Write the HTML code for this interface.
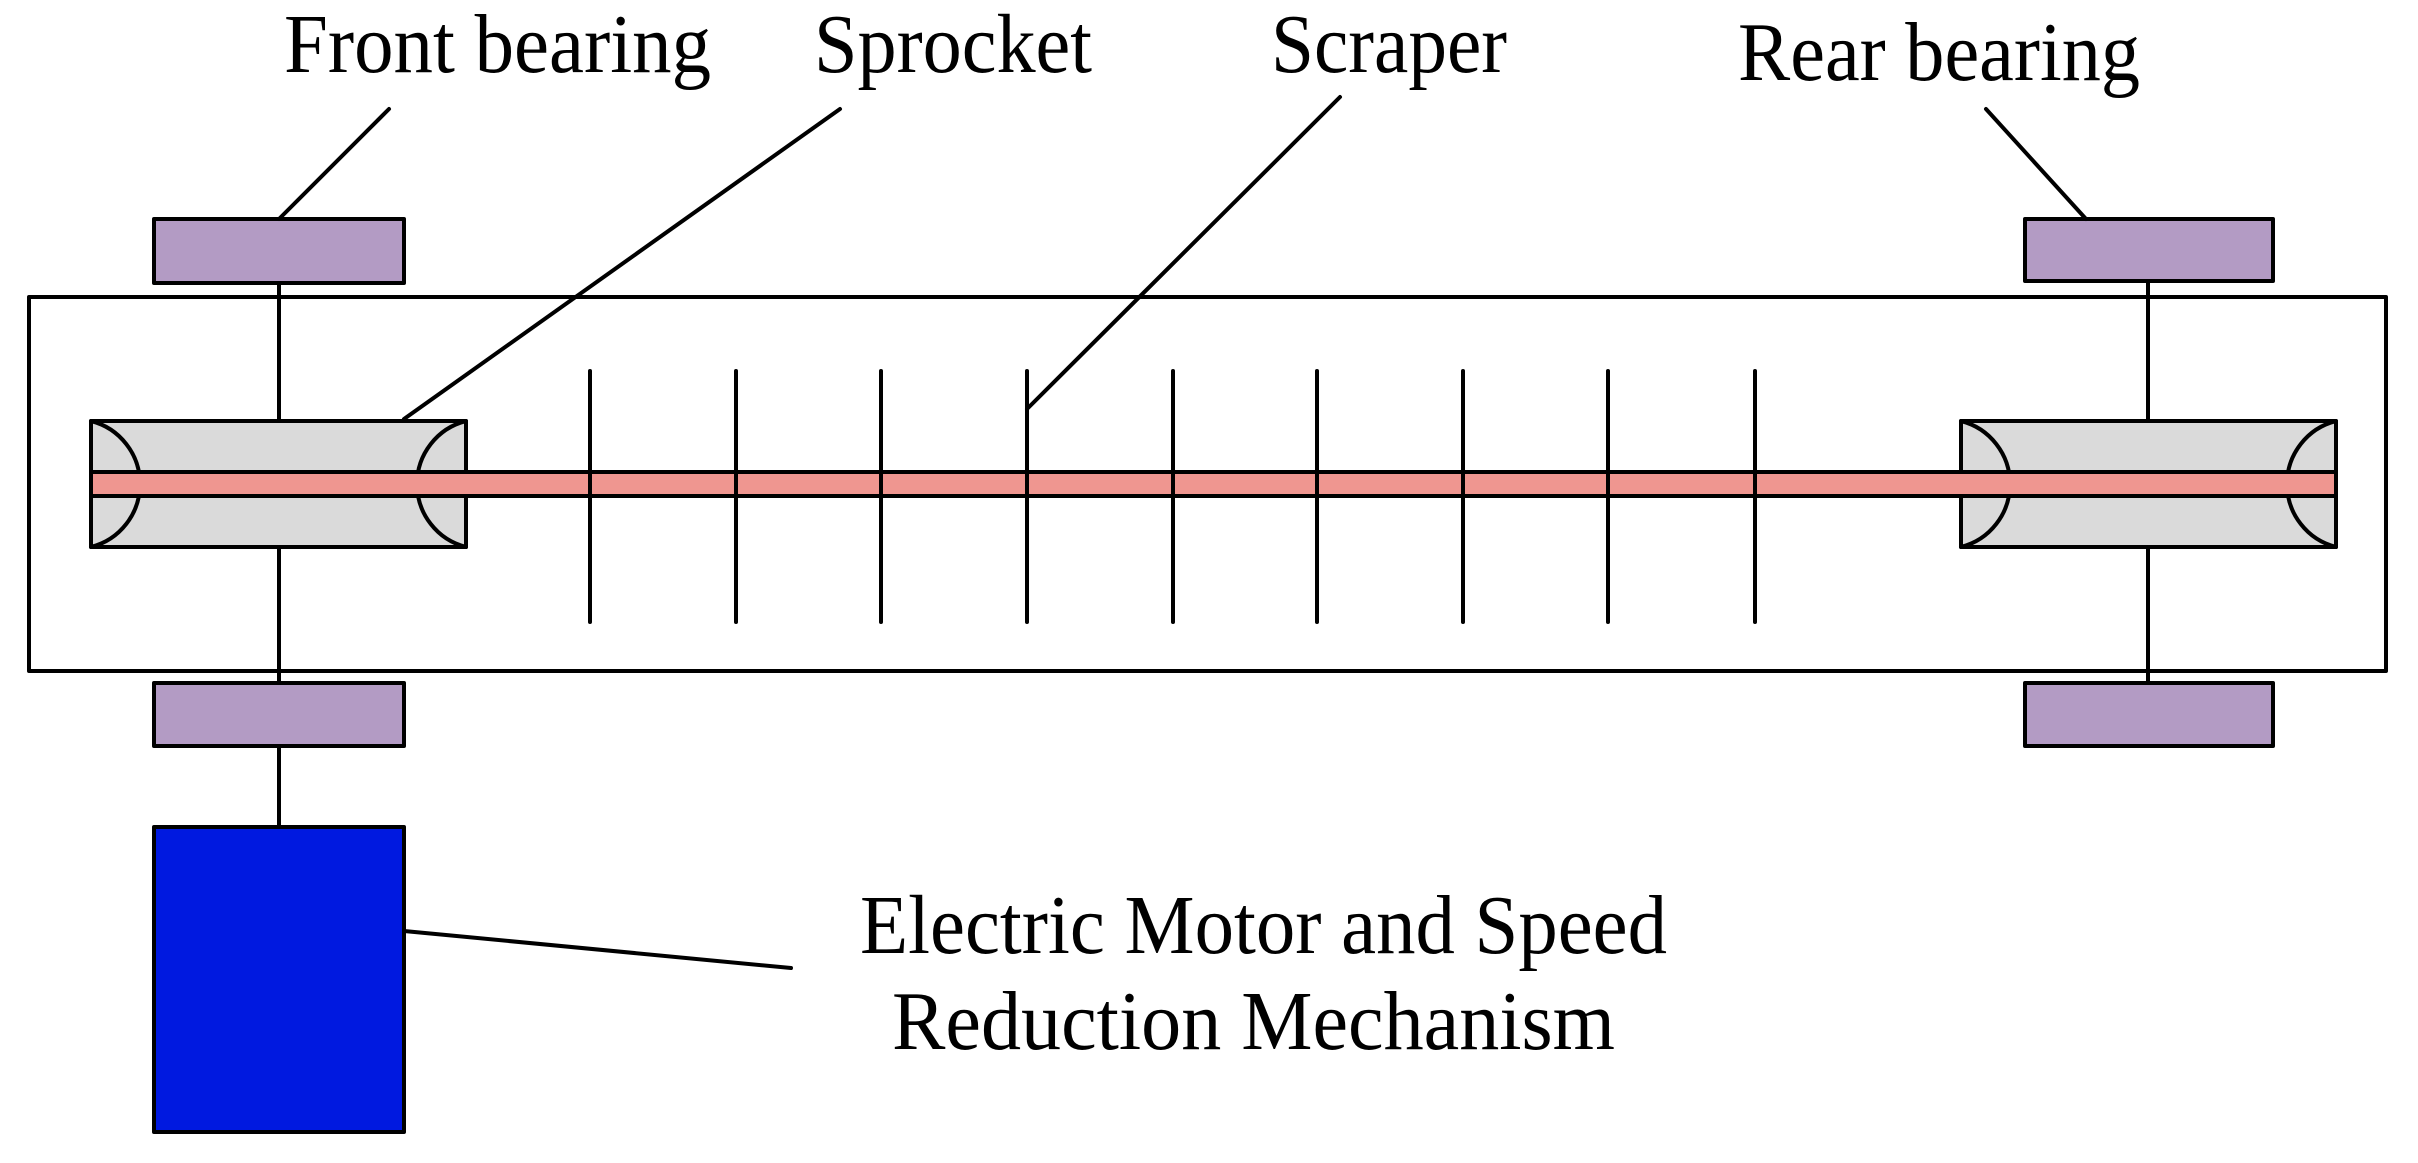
<!DOCTYPE html>
<html><head><meta charset="utf-8"><style>html,body{margin:0;padding:0;background:#fff}svg{display:block}</style></head>
<body>
<svg width="2418" height="1163" viewBox="0 0 2418 1163" xmlns="http://www.w3.org/2000/svg">
<g stroke="#000" stroke-width="4" stroke-linejoin="round" stroke-linecap="round">
<rect x="29" y="297" width="2357" height="374" fill="#fff"/>
<line x1="279" y1="283" x2="279" y2="421"/>
<line x1="279" y1="547" x2="279" y2="683"/>
<line x1="279" y1="746" x2="279" y2="827"/>
<line x1="2148" y1="281" x2="2148" y2="421"/>
<line x1="2148" y1="547" x2="2148" y2="683"/>
<rect x="154" y="219" width="250" height="64" fill="#b39bc4"/>
<rect x="154" y="683" width="250" height="63" fill="#b39bc4"/>
<rect x="2025" y="219" width="248" height="62" fill="#b39bc4"/>
<rect x="2025" y="683" width="248" height="63" fill="#b39bc4"/>
<rect x="91" y="421" width="375" height="126" fill="#dadada"/>
<path d="M91 421 A65 65 0 0 1 91 547" fill="none"/>
<path d="M466 421 A65 65 0 0 0 466 547" fill="none"/>
<rect x="1961" y="421" width="375" height="126" fill="#dadada"/>
<path d="M1961 421 A65 65 0 0 1 1961 547" fill="none"/>
<path d="M2336 421 A65 65 0 0 0 2336 547" fill="none"/>
<rect x="91" y="472" width="2245" height="24" fill="#ef9690"/>
<line x1="590" y1="371" x2="590" y2="622"/>
<line x1="736" y1="371" x2="736" y2="622"/>
<line x1="881" y1="371" x2="881" y2="622"/>
<line x1="1027" y1="371" x2="1027" y2="622"/>
<line x1="1173" y1="371" x2="1173" y2="622"/>
<line x1="1317" y1="371" x2="1317" y2="622"/>
<line x1="1463" y1="371" x2="1463" y2="622"/>
<line x1="1608" y1="371" x2="1608" y2="622"/>
<line x1="1755" y1="371" x2="1755" y2="622"/>
<rect x="154" y="827" width="250" height="305" fill="#0019e0"/>
<line x1="279" y1="219" x2="389" y2="109"/>
<line x1="404" y1="419" x2="840" y2="109"/>
<line x1="1027" y1="409" x2="1340" y2="97"/>
<line x1="2086" y1="219" x2="1986" y2="109"/>
<line x1="404" y1="931" x2="791" y2="968"/>
</g>
<g font-family="'Liberation Serif', serif" font-size="84" fill="#000">
<text x="284" y="72" textLength="427" lengthAdjust="spacingAndGlyphs">Front bearing</text>
<text x="814" y="72" textLength="278" lengthAdjust="spacingAndGlyphs">Sprocket</text>
<text x="1271" y="72" textLength="236" lengthAdjust="spacingAndGlyphs">Scraper</text>
<text x="1738" y="80" textLength="402" lengthAdjust="spacingAndGlyphs">Rear bearing</text>
<text x="860" y="953" textLength="807" lengthAdjust="spacingAndGlyphs">Electric Motor and Speed</text>
<text x="892" y="1049" textLength="723" lengthAdjust="spacingAndGlyphs">Reduction Mechanism</text>
</g>
</svg>
</body></html>
